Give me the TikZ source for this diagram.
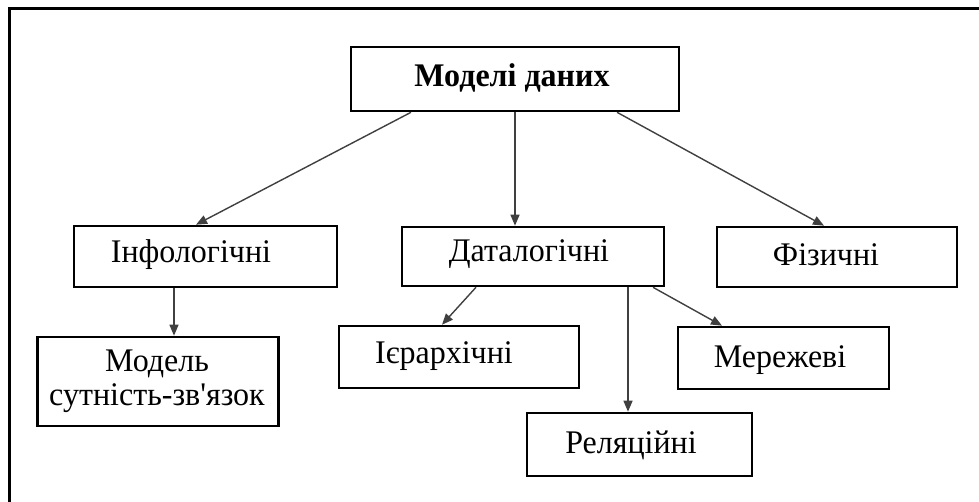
\documentclass[tikz,border=0pt]{standalone}
\usepackage{fontspec}
\setmainfont{Liberation Serif}[Ligatures=TeXOff,FakeStretch=0.97]
\usetikzlibrary{arrows.meta}
\begin{document}
\begin{tikzpicture}[x=1pt,y=-1pt,
  box/.style={draw=black,line width=2.6pt,fill=white,inner sep=0pt},
  txt/.style={inner sep=0pt,anchor=base,font=\fontsize{33}{34}\selectfont,align=center},
  arr/.style={draw=black!75,line width=1.4pt,-{Triangle[length=11pt,width=9pt]}}]
\useasboundingbox (0,0) rectangle (979,502);
\fill[white] (0,0) rectangle (979,502);
% frame
\draw[line width=3pt] (9,502) -- (9,9) -- (979,9);
% boxes
\node[box,minimum width=328pt,minimum height=64pt] (top) at (515,79) {};
\node[box,minimum width=263pt,minimum height=61pt] (info) at (205.5,256.5) {};
\node[box,minimum width=262pt,minimum height=59pt] (data) at (533,256.5) {};
\node[box,minimum width=240pt,minimum height=60pt] (phys) at (837,257) {};
\node[box,minimum width=241pt,minimum height=89pt] (model) at (158,381.5) {};
\node[box,minimum width=240pt,minimum height=62pt] (ier) at (459,357) {};
\node[box,minimum width=211pt,minimum height=62pt] (mer) at (783.5,358) {};
\node[box,minimum width=225pt,minimum height=63pt] (rel) at (639.5,444.5) {};
% texts
\node[txt,font=\fontsize{33}{34}\selectfont\bfseries] (ttop) at (512,87) {Моделі даних};
\node[txt] (tinfo) at (191,263) {Інфологічні};
\node[txt] (tdata) at (529,262) {Даталогічні};
\node[txt] (tphys) at (826,266) {Фізичні};
\node[txt,anchor=center,font=\fontsize{33}{34}\selectfont] (tmodel) at (157,381) {Модель\\сутність-зв'язок};
\node[txt] (tier) at (444,363) {Ієрархічні};
\node[txt] (tmer) at (780,367) {Мережеві};
\node[txt] (trel) at (631,453) {Реляційні};
% arrows
\draw[arr] ([xshift=-104pt]top.south) -- ([xshift=-9.5pt]info.north);
\draw[arr] (top.south) -- ([xshift=-18pt]data.north);
\draw[arr] ([xshift=102pt]top.south) -- ([xshift=-13pt]phys.north);
\draw[arr] ([xshift=-31.5pt]info.south) -- ([xshift=16pt]model.north);
\draw[arr] ([xshift=-57pt]data.south) -- ([xshift=-17pt]ier.north);
\draw[arr] ([xshift=95pt]data.south) -- ([xshift=-11.5pt]rel.north);
\draw[arr] ([xshift=120pt]data.south) -- ([xshift=-61.5pt]mer.north);
\end{tikzpicture}
\end{document}
